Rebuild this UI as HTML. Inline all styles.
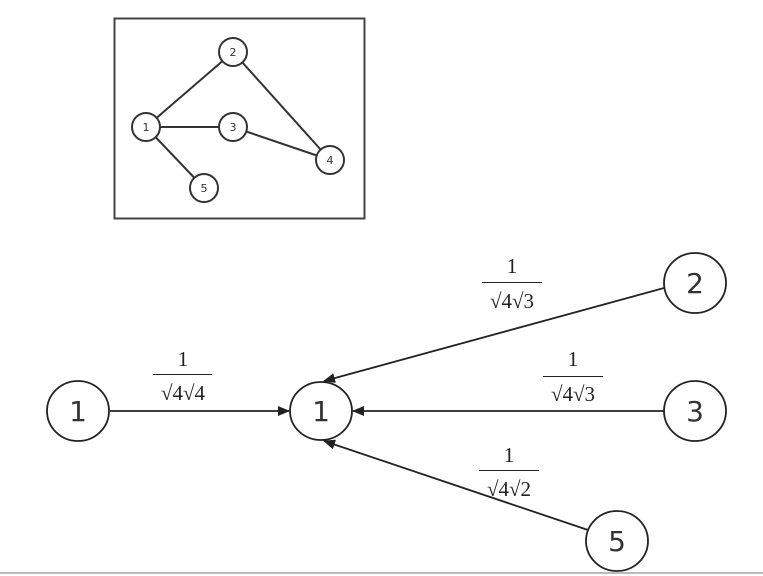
<!DOCTYPE html>
<html><head><style>
html,body{margin:0;padding:0;background:#fff;}
svg{display:block}
.n{font-family:"DejaVu Sans","Liberation Sans",sans-serif;fill:#333;text-anchor:middle}
.f{font-family:"Liberation Serif",serif;font-size:21px;fill:#222;text-anchor:middle}
</style></head><body>
<svg width="763" height="576" viewBox="0 0 763 576" xmlns="http://www.w3.org/2000/svg">
<defs><marker id="a" markerWidth="12" markerHeight="10" refX="11" refY="5" orient="auto" markerUnits="userSpaceOnUse"><path d="M0,0 L12,5 L0,10 z" fill="#222"/></marker></defs>
<rect x="114.5" y="18.5" width="250" height="200" fill="none" stroke="#444" stroke-width="2"/>
<g stroke="#333" stroke-width="2" fill="none">
<line x1="146" y1="127" x2="233" y2="52"/>
<line x1="146" y1="127" x2="233" y2="127"/>
<line x1="146" y1="127" x2="204" y2="188"/>
<line x1="233" y1="52" x2="330" y2="160"/>
<line x1="233" y1="127" x2="330" y2="160"/>
</g>
<g stroke="#333" stroke-width="2" fill="#fff">
<circle cx="146" cy="127" r="14"/><circle cx="233" cy="52" r="14"/><circle cx="233" cy="127" r="14"/><circle cx="330" cy="160" r="14"/><circle cx="204" cy="188" r="14"/>
</g>
<g class="n" font-size="11">
<text x="146" y="131">1</text><text x="233" y="56">2</text><text x="233" y="131">3</text><text x="330" y="164">4</text><text x="204" y="192">5</text>
</g>
<g stroke="#222" stroke-width="1.8" fill="none">
<line x1="110" y1="411" x2="289" y2="411" marker-end="url(#a)"/>
<line x1="664" y1="411" x2="353" y2="411" marker-end="url(#a)"/>
<line x1="664" y1="288" x2="324" y2="381" marker-end="url(#a)"/>
<line x1="588" y1="530" x2="324" y2="441" marker-end="url(#a)"/>
</g>
<g stroke="#222" stroke-width="1.8" fill="#fff">
<ellipse cx="78" cy="411" rx="31" ry="30"/><ellipse cx="321" cy="411" rx="31" ry="29"/>
<ellipse cx="695" cy="283" rx="31" ry="30"/><ellipse cx="695" cy="411" rx="31" ry="30"/><ellipse cx="617" cy="541" rx="31" ry="30"/>
</g>
<g class="n" font-size="28">
<text x="78" y="421">1</text><text x="321" y="421">1</text><text x="695" y="293">2</text><text x="695" y="421">3</text><text x="617" y="551">5</text>
</g>
<g class="f">
<text x="183" y="366">1</text><line x1="153" y1="374.5" x2="212" y2="374.5" stroke="#222"/><text x="183" y="400">√4√4</text>
<text x="512" y="273">1</text><line x1="482" y1="282.5" x2="542" y2="282.5" stroke="#222"/><text x="512" y="308">√4√3</text>
<text x="573" y="366">1</text><line x1="543" y1="376.5" x2="603" y2="376.5" stroke="#222"/><text x="573" y="401">√4√3</text>
<text x="509" y="462">1</text><line x1="479" y1="470.5" x2="539" y2="470.5" stroke="#222"/><text x="509" y="496">√4√2</text>
</g>
<line x1="0" y1="573" x2="763" y2="573" stroke="#bbb" stroke-width="2"/>
</svg>
</body></html>
